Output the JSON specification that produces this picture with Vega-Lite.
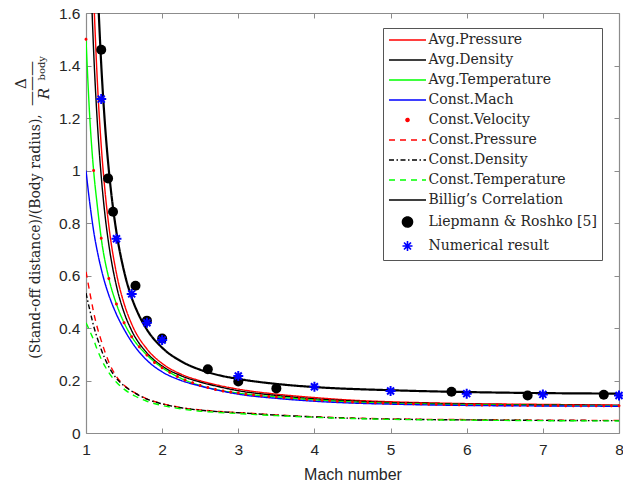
{
  "$schema": "https://vega.github.io/schema/vega-lite/v6.json",
  "width": 533,
  "height": 420,
  "autosize": {"type": "none"},
  "padding": {"left": 86, "top": 13, "right": 4, "bottom": 50},
  "background": "white",
  "title": {"text": "body", "orient": "left", "anchor": "end", "angle": 270, "font": "DejaVu Serif", "fontSize": 10, "fontWeight": "normal", "color": "#262626", "offset": -34, "dx": -50},
  "datasets": {
    "lines": [
      {"s":"Avg.Pressure","M":1.10,"v":1.670},{"s":"Avg.Pressure","M":1.15,"v":1.334},{"s":"Avg.Pressure","M":1.2,"v":1.095},{"s":"Avg.Pressure","M":1.25,"v":0.921},{"s":"Avg.Pressure","M":1.3,"v":0.789},{"s":"Avg.Pressure","M":1.4,"v":0.608},{"s":"Avg.Pressure","M":1.5,"v":0.493},{"s":"Avg.Pressure","M":1.6,"v":0.415},{"s":"Avg.Pressure","M":1.8,"v":0.320},{"s":"Avg.Pressure","M":2.0,"v":0.265},{"s":"Avg.Pressure","M":2.25,"v":0.224},{"s":"Avg.Pressure","M":2.5,"v":0.199},{"s":"Avg.Pressure","M":2.75,"v":0.181},{"s":"Avg.Pressure","M":3,"v":0.167},{"s":"Avg.Pressure","M":3.5,"v":0.148},{"s":"Avg.Pressure","M":4,"v":0.135},{"s":"Avg.Pressure","M":4.5,"v":0.125},{"s":"Avg.Pressure","M":5,"v":0.119},{"s":"Avg.Pressure","M":5.5,"v":0.115},{"s":"Avg.Pressure","M":6,"v":0.112},{"s":"Avg.Pressure","M":7,"v":0.109},{"s":"Avg.Pressure","M":8,"v":0.106},
      {"s":"Avg.Density","M":1.07,"v":1.680},{"s":"Avg.Density","M":1.1,"v":1.457},{"s":"Avg.Density","M":1.15,"v":1.178},{"s":"Avg.Density","M":1.2,"v":0.978},{"s":"Avg.Density","M":1.25,"v":0.829},{"s":"Avg.Density","M":1.3,"v":0.717},{"s":"Avg.Density","M":1.4,"v":0.560},{"s":"Avg.Density","M":1.5,"v":0.459},{"s":"Avg.Density","M":1.6,"v":0.390},{"s":"Avg.Density","M":1.8,"v":0.305},{"s":"Avg.Density","M":2.0,"v":0.255},{"s":"Avg.Density","M":2.25,"v":0.218},{"s":"Avg.Density","M":2.5,"v":0.194},{"s":"Avg.Density","M":2.75,"v":0.176},{"s":"Avg.Density","M":3,"v":0.161},{"s":"Avg.Density","M":3.5,"v":0.143},{"s":"Avg.Density","M":4,"v":0.130},{"s":"Avg.Density","M":4.5,"v":0.122},{"s":"Avg.Density","M":5,"v":0.116},{"s":"Avg.Density","M":5.5,"v":0.113},{"s":"Avg.Density","M":6,"v":0.110},{"s":"Avg.Density","M":7,"v":0.107},{"s":"Avg.Density","M":8,"v":0.105},
      {"s":"Avg.Temperature","M":1.0,"v":1.50},{"s":"Avg.Temperature","M":1.025,"v":1.34},{"s":"Avg.Temperature","M":1.05,"v":1.20},{"s":"Avg.Temperature","M":1.075,"v":1.09},{"s":"Avg.Temperature","M":1.1,"v":1.00},{"s":"Avg.Temperature","M":1.15,"v":0.862},{"s":"Avg.Temperature","M":1.2,"v":0.742},{"s":"Avg.Temperature","M":1.3,"v":0.589},{"s":"Avg.Temperature","M":1.4,"v":0.491},{"s":"Avg.Temperature","M":1.5,"v":0.420},{"s":"Avg.Temperature","M":1.6,"v":0.367},{"s":"Avg.Temperature","M":1.8,"v":0.297},{"s":"Avg.Temperature","M":2.0,"v":0.249},{"s":"Avg.Temperature","M":2.25,"v":0.208},{"s":"Avg.Temperature","M":2.5,"v":0.181},{"s":"Avg.Temperature","M":2.75,"v":0.163},{"s":"Avg.Temperature","M":3,"v":0.152},{"s":"Avg.Temperature","M":3.5,"v":0.137},{"s":"Avg.Temperature","M":4,"v":0.126},{"s":"Avg.Temperature","M":4.5,"v":0.118},{"s":"Avg.Temperature","M":5,"v":0.113},{"s":"Avg.Temperature","M":5.5,"v":0.110},{"s":"Avg.Temperature","M":6,"v":0.108},{"s":"Avg.Temperature","M":7,"v":0.105},{"s":"Avg.Temperature","M":8,"v":0.104},
      {"s":"Const.Mach","M":1.0,"v":1.0},{"s":"Const.Mach","M":1.025,"v":0.935},{"s":"Const.Mach","M":1.05,"v":0.875},{"s":"Const.Mach","M":1.075,"v":0.82},{"s":"Const.Mach","M":1.1,"v":0.77},{"s":"Const.Mach","M":1.15,"v":0.69},{"s":"Const.Mach","M":1.2,"v":0.625},{"s":"Const.Mach","M":1.25,"v":0.57},{"s":"Const.Mach","M":1.3,"v":0.525},{"s":"Const.Mach","M":1.4,"v":0.452},{"s":"Const.Mach","M":1.5,"v":0.395},{"s":"Const.Mach","M":1.6,"v":0.347},{"s":"Const.Mach","M":1.8,"v":0.277},{"s":"Const.Mach","M":2.0,"v":0.233},{"s":"Const.Mach","M":2.25,"v":0.200},{"s":"Const.Mach","M":2.5,"v":0.179},{"s":"Const.Mach","M":2.75,"v":0.162},{"s":"Const.Mach","M":3,"v":0.148},{"s":"Const.Mach","M":3.5,"v":0.132},{"s":"Const.Mach","M":4,"v":0.121},{"s":"Const.Mach","M":4.5,"v":0.114},{"s":"Const.Mach","M":5,"v":0.110},{"s":"Const.Mach","M":5.5,"v":0.107},{"s":"Const.Mach","M":6,"v":0.105},{"s":"Const.Mach","M":7,"v":0.103},{"s":"Const.Mach","M":8,"v":0.102},
      {"s":"Const.Pressure","M":1.0,"v":0.614},{"s":"Const.Pressure","M":1.025,"v":0.575},{"s":"Const.Pressure","M":1.05,"v":0.535},{"s":"Const.Pressure","M":1.075,"v":0.497},{"s":"Const.Pressure","M":1.1,"v":0.460},{"s":"Const.Pressure","M":1.15,"v":0.400},{"s":"Const.Pressure","M":1.2,"v":0.352},{"s":"Const.Pressure","M":1.3,"v":0.270},{"s":"Const.Pressure","M":1.4,"v":0.215},{"s":"Const.Pressure","M":1.5,"v":0.182},{"s":"Const.Pressure","M":1.65,"v":0.152},{"s":"Const.Pressure","M":1.8,"v":0.130},{"s":"Const.Pressure","M":2.0,"v":0.112},{"s":"Const.Pressure","M":2.25,"v":0.097},{"s":"Const.Pressure","M":2.5,"v":0.088},{"s":"Const.Pressure","M":2.75,"v":0.082},{"s":"Const.Pressure","M":3,"v":0.078},{"s":"Const.Pressure","M":3.5,"v":0.069},{"s":"Const.Pressure","M":4,"v":0.062},{"s":"Const.Pressure","M":4.5,"v":0.057},{"s":"Const.Pressure","M":5,"v":0.054},{"s":"Const.Pressure","M":5.5,"v":0.052},{"s":"Const.Pressure","M":6,"v":0.051},{"s":"Const.Pressure","M":7,"v":0.049},{"s":"Const.Pressure","M":8,"v":0.048},
      {"s":"Const.Density","M":1.0,"v":0.533},{"s":"Const.Density","M":1.025,"v":0.500},{"s":"Const.Density","M":1.05,"v":0.468},{"s":"Const.Density","M":1.075,"v":0.437},{"s":"Const.Density","M":1.1,"v":0.408},{"s":"Const.Density","M":1.15,"v":0.360},{"s":"Const.Density","M":1.2,"v":0.318},{"s":"Const.Density","M":1.3,"v":0.252},{"s":"Const.Density","M":1.4,"v":0.208},{"s":"Const.Density","M":1.5,"v":0.180},{"s":"Const.Density","M":1.65,"v":0.151},{"s":"Const.Density","M":1.8,"v":0.129},{"s":"Const.Density","M":2.0,"v":0.111},{"s":"Const.Density","M":2.25,"v":0.096},{"s":"Const.Density","M":2.5,"v":0.087},{"s":"Const.Density","M":2.75,"v":0.081},{"s":"Const.Density","M":3,"v":0.077},{"s":"Const.Density","M":3.5,"v":0.068},{"s":"Const.Density","M":4,"v":0.061},{"s":"Const.Density","M":4.5,"v":0.056},{"s":"Const.Density","M":5,"v":0.053},{"s":"Const.Density","M":5.5,"v":0.051},{"s":"Const.Density","M":6,"v":0.050},{"s":"Const.Density","M":7,"v":0.048},{"s":"Const.Density","M":8,"v":0.047},
      {"s":"Const.Temperature","M":1.0,"v":0.420},{"s":"Const.Temperature","M":1.025,"v":0.405},{"s":"Const.Temperature","M":1.05,"v":0.388},{"s":"Const.Temperature","M":1.075,"v":0.372},{"s":"Const.Temperature","M":1.1,"v":0.355},{"s":"Const.Temperature","M":1.15,"v":0.316},{"s":"Const.Temperature","M":1.2,"v":0.282},{"s":"Const.Temperature","M":1.3,"v":0.230},{"s":"Const.Temperature","M":1.4,"v":0.193},{"s":"Const.Temperature","M":1.5,"v":0.167},{"s":"Const.Temperature","M":1.65,"v":0.140},{"s":"Const.Temperature","M":1.8,"v":0.121},{"s":"Const.Temperature","M":2.0,"v":0.105},{"s":"Const.Temperature","M":2.25,"v":0.092},{"s":"Const.Temperature","M":2.5,"v":0.083},{"s":"Const.Temperature","M":2.75,"v":0.078},{"s":"Const.Temperature","M":3,"v":0.074},{"s":"Const.Temperature","M":3.5,"v":0.066},{"s":"Const.Temperature","M":4,"v":0.060},{"s":"Const.Temperature","M":4.5,"v":0.055},{"s":"Const.Temperature","M":5,"v":0.052},{"s":"Const.Temperature","M":5.5,"v":0.050},{"s":"Const.Temperature","M":6,"v":0.049},{"s":"Const.Temperature","M":7,"v":0.047},{"s":"Const.Temperature","M":8,"v":0.046},
      {"s":"Billig’s Correlation","M":1.16,"v":1.648},{"s":"Billig’s Correlation","M":1.2,"v":1.404},{"s":"Billig’s Correlation","M":1.25,"v":1.173},{"s":"Billig’s Correlation","M":1.3,"v":1.001},{"s":"Billig’s Correlation","M":1.35,"v":0.869},{"s":"Billig’s Correlation","M":1.4,"v":0.765},{"s":"Billig’s Correlation","M":1.5,"v":0.616},{"s":"Billig’s Correlation","M":1.6,"v":0.516},{"s":"Billig’s Correlation","M":1.7,"v":0.446},{"s":"Billig’s Correlation","M":1.8,"v":0.394},{"s":"Billig’s Correlation","M":2.0,"v":0.325},{"s":"Billig’s Correlation","M":2.25,"v":0.273},{"s":"Billig’s Correlation","M":2.5,"v":0.241},{"s":"Billig’s Correlation","M":2.75,"v":0.220},{"s":"Billig’s Correlation","M":3,"v":0.206},{"s":"Billig’s Correlation","M":3.5,"v":0.187},{"s":"Billig’s Correlation","M":4,"v":0.175},{"s":"Billig’s Correlation","M":5,"v":0.163},{"s":"Billig’s Correlation","M":6,"v":0.156},{"s":"Billig’s Correlation","M":7,"v":0.152},{"s":"Billig’s Correlation","M":8,"v":0.150}
    ],
    "pts": [
      {"s":"Const.Velocity","M":1.0,"v":1.500},{"s":"Const.Velocity","M":1.1,"v":1.000},{"s":"Const.Velocity","M":1.2,"v":0.742},{"s":"Const.Velocity","M":1.3,"v":0.589},{"s":"Const.Velocity","M":1.4,"v":0.491},{"s":"Const.Velocity","M":1.5,"v":0.420},{"s":"Const.Velocity","M":1.6,"v":0.367},{"s":"Const.Velocity","M":1.7,"v":0.329},{"s":"Const.Velocity","M":1.8,"v":0.297},{"s":"Const.Velocity","M":1.9,"v":0.269},
      {"s":"Const.Velocity","M":2.0,"v":0.249},{"s":"Const.Velocity","M":2.1,"v":0.231},{"s":"Const.Velocity","M":2.2,"v":0.215},{"s":"Const.Velocity","M":2.3,"v":0.202},{"s":"Const.Velocity","M":2.4,"v":0.191},{"s":"Const.Velocity","M":2.5,"v":0.181},{"s":"Const.Velocity","M":2.6,"v":0.173},{"s":"Const.Velocity","M":2.7,"v":0.166},{"s":"Const.Velocity","M":2.8,"v":0.160},{"s":"Const.Velocity","M":2.9,"v":0.156},
      {"s":"Const.Velocity","M":3.0,"v":0.152},{"s":"Const.Velocity","M":3.1,"v":0.148},{"s":"Const.Velocity","M":3.2,"v":0.145},{"s":"Const.Velocity","M":3.3,"v":0.142},{"s":"Const.Velocity","M":3.4,"v":0.139},{"s":"Const.Velocity","M":3.5,"v":0.137},{"s":"Const.Velocity","M":3.6,"v":0.135},{"s":"Const.Velocity","M":3.7,"v":0.133},{"s":"Const.Velocity","M":3.8,"v":0.131},{"s":"Const.Velocity","M":3.9,"v":0.128},
      {"s":"Const.Velocity","M":4.0,"v":0.126},{"s":"Const.Velocity","M":4.1,"v":0.125},{"s":"Const.Velocity","M":4.2,"v":0.123},{"s":"Const.Velocity","M":4.3,"v":0.121},{"s":"Const.Velocity","M":4.4,"v":0.120},{"s":"Const.Velocity","M":4.5,"v":0.118},{"s":"Const.Velocity","M":4.6,"v":0.117},{"s":"Const.Velocity","M":4.7,"v":0.116},{"s":"Const.Velocity","M":4.8,"v":0.115},{"s":"Const.Velocity","M":4.9,"v":0.114},
      {"s":"Const.Velocity","M":5.0,"v":0.113},{"s":"Const.Velocity","M":5.1,"v":0.112},{"s":"Const.Velocity","M":5.2,"v":0.112},{"s":"Const.Velocity","M":5.3,"v":0.111},{"s":"Const.Velocity","M":5.4,"v":0.111},{"s":"Const.Velocity","M":5.5,"v":0.110},{"s":"Const.Velocity","M":5.6,"v":0.110},{"s":"Const.Velocity","M":5.7,"v":0.109},{"s":"Const.Velocity","M":5.8,"v":0.109},{"s":"Const.Velocity","M":5.9,"v":0.108},
      {"s":"Const.Velocity","M":6.0,"v":0.108},{"s":"Const.Velocity","M":6.1,"v":0.108},{"s":"Const.Velocity","M":6.2,"v":0.107},{"s":"Const.Velocity","M":6.3,"v":0.107},{"s":"Const.Velocity","M":6.4,"v":0.107},{"s":"Const.Velocity","M":6.5,"v":0.106},{"s":"Const.Velocity","M":6.6,"v":0.106},{"s":"Const.Velocity","M":6.7,"v":0.106},{"s":"Const.Velocity","M":6.8,"v":0.105},{"s":"Const.Velocity","M":6.9,"v":0.105},
      {"s":"Const.Velocity","M":7.0,"v":0.105},{"s":"Const.Velocity","M":7.1,"v":0.105},{"s":"Const.Velocity","M":7.2,"v":0.105},{"s":"Const.Velocity","M":7.3,"v":0.104},{"s":"Const.Velocity","M":7.4,"v":0.104},{"s":"Const.Velocity","M":7.5,"v":0.104},{"s":"Const.Velocity","M":7.6,"v":0.104},{"s":"Const.Velocity","M":7.7,"v":0.104},{"s":"Const.Velocity","M":7.8,"v":0.104},{"s":"Const.Velocity","M":7.9,"v":0.104},{"s":"Const.Velocity","M":8.0,"v":0.104},
      {"s":"Liepmann & Roshko [5]","M":1.2,"v":1.46},{"s":"Liepmann & Roshko [5]","M":1.29,"v":0.97},{"s":"Liepmann & Roshko [5]","M":1.355,"v":0.843},{"s":"Liepmann & Roshko [5]","M":1.65,"v":0.561},{"s":"Liepmann & Roshko [5]","M":1.8,"v":0.428},{"s":"Liepmann & Roshko [5]","M":2.0,"v":0.36},{"s":"Liepmann & Roshko [5]","M":2.6,"v":0.243},{"s":"Liepmann & Roshko [5]","M":3.0,"v":0.196},{"s":"Liepmann & Roshko [5]","M":3.5,"v":0.170},{"s":"Liepmann & Roshko [5]","M":5.8,"v":0.157},{"s":"Liepmann & Roshko [5]","M":6.8,"v":0.143},{"s":"Liepmann & Roshko [5]","M":7.8,"v":0.146},
      {"s":"Numerical result","M":1.2,"v":1.272},{"s":"Numerical result","M":1.4,"v":0.740},{"s":"Numerical result","M":1.6,"v":0.530},{"s":"Numerical result","M":1.8,"v":0.420},{"s":"Numerical result","M":2.0,"v":0.354},{"s":"Numerical result","M":3.0,"v":0.217},{"s":"Numerical result","M":4.0,"v":0.176},{"s":"Numerical result","M":5.0,"v":0.160},{"s":"Numerical result","M":6.0,"v":0.150},{"s":"Numerical result","M":7.0,"v":0.147},{"s":"Numerical result","M":8.0,"v":0.143}
    ]
  },
  "layer": [
    {
      "data": {"name": "lines"},
      "transform": [{"filter": "datum.s !== 'Billig’s Correlation'"}],
      "mark": {"type": "line", "interpolate": "monotone", "clip": true, "strokeWidth": 1.4},
      "encoding": {
        "x": {"field": "M", "type": "quantitative", "scale": {"domain": [1, 8], "nice": false, "zero": false},
              "axis": {"orient": "bottom", "values": [1,2,3,4,5,6,7,8], "title": "Mach number", "titleFont": "Liberation Sans", "titleFontSize": 16, "titleFontWeight": "normal", "titleColor": "#262626", "titleY": 46, "titleBaseline": "alphabetic", "labelPadding": 14}},
        "y": {"field": "v", "type": "quantitative", "scale": {"domain": [0, 1.6], "nice": false},
              "axis": {"orient": "left", "values": [0,0.2,0.4,0.6,0.8,1,1.2,1.4,1.6], "format": "~g", "title": "(Stand-off distance)/(Body radius),", "titleFont": "DejaVu Serif", "titleFontSize": 14, "titleFontWeight": "normal", "titleColor": "#262626", "titleAngle": 270, "titleX": -47, "titleY": 223, "titleAlign": "center", "titleBaseline": "alphabetic", "labelPadding": 11}},
        "stroke": {"field": "s", "type": "nominal", "scale": {"domain": ["Avg.Pressure","Avg.Density","Avg.Temperature","Const.Mach","Const.Velocity","Const.Pressure","Const.Density","Const.Temperature","Billig’s Correlation","Liepmann & Roshko [5]","Numerical result"], "range": ["#ff0000","#000000","#00ff00","#0000ff","#ff0000","#ff0000","#000000","#00ff00","#000000","#000000","#0000ff"]}, "legend": {"title": null}},
        "strokeDash": {"field": "s", "type": "nominal", "scale": {"domain": ["Avg.Pressure","Avg.Density","Avg.Temperature","Const.Mach","Const.Velocity","Const.Pressure","Const.Density","Const.Temperature","Billig’s Correlation","Liepmann & Roshko [5]","Numerical result"], "range": [[1,0],[1,0],[1,0],[1,0],[1,0],[6,5],[5,2.5,1.5,2.5],[6,5],[1,0],[1,0],[1,0]]}, "legend": {"title": null}}
      }
    },
    {
      "data": {"name": "lines"},
      "transform": [{"filter": "datum.s === 'Billig’s Correlation'"}],
      "mark": {"type": "line", "interpolate": "monotone", "clip": true, "strokeWidth": 2.2},
      "encoding": {
        "x": {"field": "M", "type": "quantitative", "axis": null},
        "y": {"field": "v", "type": "quantitative", "axis": null},
        "stroke": {"field": "s", "type": "nominal", "legend": {"title": null}},
        "strokeDash": {"field": "s", "type": "nominal", "legend": {"title": null}}
      }
    },
    {
      "data": {"name": "pts"},
      "transform": [{"filter": "datum.s !== 'Numerical result'"}],
      "mark": {"type": "point", "filled": true, "opacity": 1, "clip": false, "size": 100, "strokeWidth": 0},
      "encoding": {
        "x": {"field": "M", "type": "quantitative", "axis": null},
        "y": {"field": "v", "type": "quantitative", "axis": null},
        "fill": {"field": "s", "type": "nominal", "scale": {"domain": ["Avg.Pressure","Avg.Density","Avg.Temperature","Const.Mach","Const.Velocity","Const.Pressure","Const.Density","Const.Temperature","Billig’s Correlation","Liepmann & Roshko [5]","Numerical result"], "range": ["transparent","transparent","transparent","transparent","#ff0000","transparent","transparent","transparent","transparent","#000000","#0000ff"]}, "legend": {"title": null}},
        "stroke": {"field": "s", "type": "nominal", "legend": {"title": null}},
        "shape": {"field": "s", "type": "nominal", "scale": {"domain": ["Avg.Pressure","Avg.Density","Avg.Temperature","Const.Mach","Const.Velocity","Const.Pressure","Const.Density","Const.Temperature","Billig’s Correlation","Liepmann & Roshko [5]","Numerical result"], "range": ["M-3.7,0L3.7,0","M-3.7,0L3.7,0","M-3.7,0L3.7,0","M-3.7,0L3.7,0","M-0.3,0A0.3,0.3 0 1,0 0.3,0A0.3,0.3 0 1,0 -0.3,0Z","M-3.7,0L3.7,0","M-3.7,0L3.7,0","M-3.7,0L3.7,0","M-3.7,0L3.7,0","circle","M-1,0L1,0M0,-1L0,1M-0.7,-0.7L0.7,0.7M-0.7,0.7L0.7,-0.7"]}, "legend": {"title": null}}
      }
    },
    {
      "data": {"name": "pts"},
      "transform": [{"filter": "datum.s === 'Numerical result'"}],
      "mark": {"type": "point", "filled": true, "opacity": 1, "clip": false, "size": 100, "strokeWidth": 2},
      "encoding": {
        "x": {"field": "M", "type": "quantitative",
              "axis": {"orient": "top", "values": [1,2,3,4,5,6,7,8], "labels": false, "title": "R", "titleFont": "DejaVu Serif", "titleFontSize": 15, "titleFontStyle": "italic", "titleFontWeight": "normal", "titleColor": "#262626", "titleAngle": 270, "titleX": -38, "titleY": 80, "titleAlign": "center", "titleBaseline": "alphabetic"}},
        "y": {"field": "v", "type": "quantitative",
              "axis": {"orient": "right", "values": [0,0.2,0.4,0.6,0.8,1,1.2,1.4,1.6], "labels": false, "title": ["Δ", "———"], "titleFont": "DejaVu Serif", "titleFontSize": 15, "titleFontWeight": "normal", "titleColor": "#262626", "titleAngle": 270, "titleX": -594, "titleY": 70, "titleAlign": "center", "titleBaseline": "alphabetic", "titleLineHeight": 10}},
        "fill": {"field": "s", "type": "nominal", "legend": {"title": null}},
        "stroke": {"field": "s", "type": "nominal", "legend": {"title": null}},
        "shape": {"field": "s", "type": "nominal", "legend": {"title": null}}
      }
    }
  ],
  "resolve": {"axis": {"x": "independent", "y": "independent"}},
  "config": {
    "view": {"stroke": null},
    "axis": {"grid": false, "domainColor": "#8c8c8c", "domainWidth": 1.2, "tickColor": "#8c8c8c", "tickWidth": 1, "tickSize": -5, "labelFont": "Liberation Sans", "labelFontSize": 15.5, "labelColor": "#262626", "labelFlush": false, "labelOverlap": false, "labelBound": false},
    "legend": {"orient": "none", "legendX": 297, "legendY": 15, "padding": 5, "strokeColor": "#555555", "fillColor": "#ffffff", "labelFont": "DejaVu Serif", "labelFontSize": 14, "labelColor": "#262626", "labelLimit": 300, "labelOffset": 14, "symbolOffset": 12.5, "rowPadding": 6, "symbolSize": 100, "symbolStrokeWidth": 1.6}
  }
}
